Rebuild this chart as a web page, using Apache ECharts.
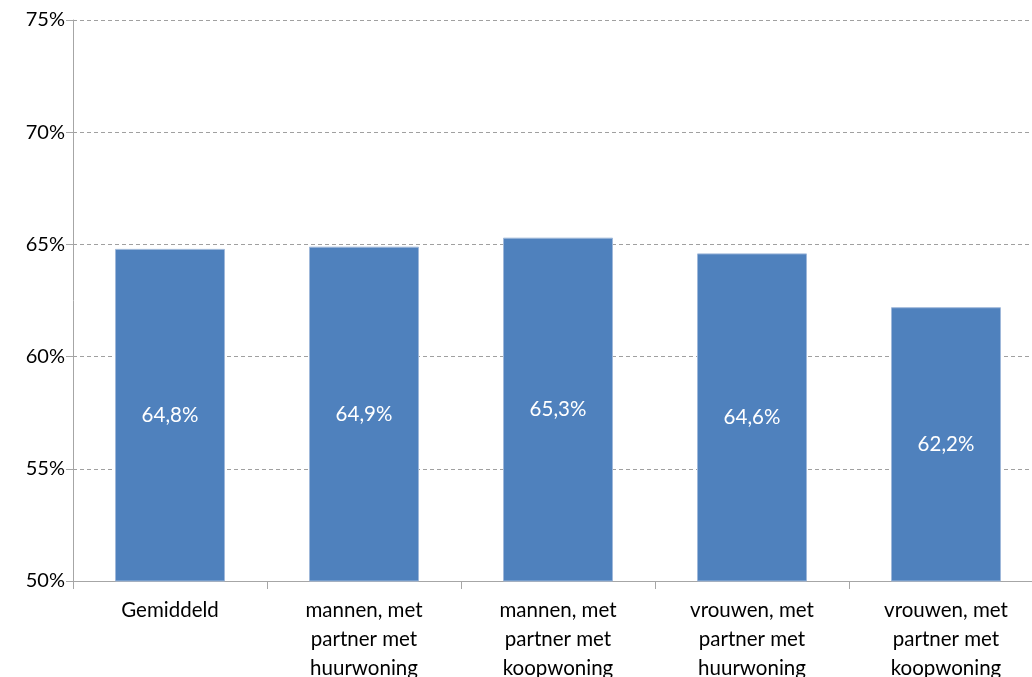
<!DOCTYPE html>
<html>
<head>
<meta charset="utf-8">
<script src="https://cdn.jsdelivr.net/npm/echarts@6/dist/echarts.min.js"></script>
<style>
  html, body { margin: 0; padding: 0; background: #fff; }
  #chart { width: 1032px; height: 677px; }
</style>
</head>
<body>
<div id="chart"></div>
<script>
// categories and values
var categories = [
  'Gemiddeld',
  'mannen, met\npartner met\nhuurwoning',
  'mannen, met\npartner met\nkoopwoning',
  'vrouwen, met\npartner met\nhuurwoning',
  'vrouwen, met\npartner met\nkoopwoning'
];
var values = [64.8, 64.9, 65.3, 64.6, 62.2];
var yTicks = [50, 55, 60, 65, 70, 75];

var font = 'Lato, "Open Sans", sans-serif';

function pct(v) {
  return v.toFixed(1).replace('.', ',') + '%';
}

var chart = echarts.init(document.getElementById('chart'), null, { renderer: 'canvas' });
chart.setOption({
  animation: false,
  // the source chart runs past the right edge of the picture
  grid: { left: 73, right: -11, top: 20, bottom: 96, outerBoundsMode: 'none', containLabel: false },
  xAxis: {
    type: 'category',
    data: categories,
    axisLine: { lineStyle: { color: '#a6a6a6', width: 1 } },
    axisTick: { show: true, length: 8, lineStyle: { color: '#a6a6a6' } },
    axisLabel: {
      color: '#000',
      fontFamily: font,
      fontSize: 20.5,
      lineHeight: 29,
      margin: 15,
      interval: 0
    }
  },
  yAxis: {
    type: 'value',
    min: yTicks[0],
    max: yTicks[yTicks.length - 1],
    interval: 5,
    axisLine: { show: true, lineStyle: { color: '#a6a6a6', width: 1 } },
    axisTick: { show: true, length: 7, lineStyle: { color: '#a6a6a6' } },
    axisLabel: {
      color: '#000',
      fontFamily: font,
      fontSize: 20,
      margin: 8,
      formatter: function (v) { return v + '%'; }
    },
    splitLine: { show: true, lineStyle: { color: '#a0a0a0', type: [4, 3], width: 1 } }
  },
  series: [{
    type: 'bar',
    data: values,
    barWidth: 110,
    itemStyle: { color: '#4f81bd', borderColor: '#9fb8da', borderWidth: 1 },
    label: {
      show: true,
      position: 'inside',
      color: '#fff',
      fontFamily: font,
      fontSize: 20.5,
      formatter: function (p) { return pct(p.value); }
    }
  }]
});
</script>
</body>
</html>
